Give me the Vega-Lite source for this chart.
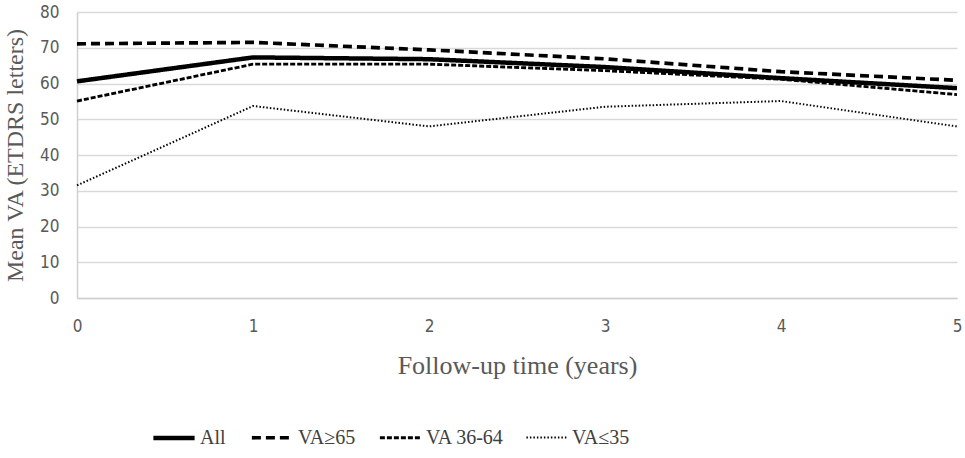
{
  "$schema": "https://vega.github.io/schema/vega-lite/v6.json",
  "autosize": {"type": "none"},
  "padding": {"left": 77, "top": 12, "right": 8, "bottom": 160},
  "width": 880,
  "height": 286,
  "background": "white",
  "data": {
    "values": [
      {"year": 0, "group": "All", "va": 60.6},
      {"year": 1, "group": "All", "va": 67.3},
      {"year": 2, "group": "All", "va": 66.8},
      {"year": 3, "group": "All", "va": 64.6},
      {"year": 4, "group": "All", "va": 61.5},
      {"year": 5, "group": "All", "va": 58.7},
      {"year": 0, "group": "VA≥65", "va": 71.1},
      {"year": 1, "group": "VA≥65", "va": 71.5},
      {"year": 2, "group": "VA≥65", "va": 69.4},
      {"year": 3, "group": "VA≥65", "va": 66.9},
      {"year": 4, "group": "VA≥65", "va": 63.3},
      {"year": 5, "group": "VA≥65", "va": 60.9},
      {"year": 0, "group": "VA 36-64", "va": 55.1},
      {"year": 1, "group": "VA 36-64", "va": 65.4},
      {"year": 2, "group": "VA 36-64", "va": 65.4},
      {"year": 3, "group": "VA 36-64", "va": 63.6},
      {"year": 4, "group": "VA 36-64", "va": 61.2},
      {"year": 5, "group": "VA 36-64", "va": 56.9},
      {"year": 0, "group": "VA≤35", "va": 31.5},
      {"year": 1, "group": "VA≤35", "va": 53.7},
      {"year": 2, "group": "VA≤35", "va": 48.0},
      {"year": 3, "group": "VA≤35", "va": 53.5},
      {"year": 4, "group": "VA≤35", "va": 55.1},
      {"year": 5, "group": "VA≤35", "va": 48.0}
    ]
  },
  "mark": {"type": "line", "color": "black", "strokeCap": "butt", "strokeJoin": "round"},
  "encoding": {
    "x": {
      "field": "year",
      "type": "quantitative",
      "scale": {"domain": [0, 5], "nice": false},
      "title": "Follow-up time (years)",
      "axis": {"values": [0, 1, 2, 3, 4, 5], "labelOverlap": false, "labelFlush": false, "labelBound": false, "grid": false, "ticks": false, "labelPadding": 20, "titlePadding": 18, "titleFontSize": 26}
    },
    "y": {
      "field": "va",
      "type": "quantitative",
      "scale": {"domain": [0, 80], "nice": false},
      "title": "Mean VA (ETDRS letters)",
      "axis": {"values": [0, 10, 20, 30, 40, 50, 60, 70, 80], "labelOverlap": false, "ticks": false, "labelPadding": 18, "titlePadding": 12, "titleFontSize": 24}
    },
    "strokeDash": {
      "field": "group",
      "type": "nominal",
      "scale": {
        "domain": ["All", "VA≥65", "VA 36-64", "VA≤35"],
        "range": [[1, 0], [9, 5], [5, 2], [1.5, 2]]
      },
      "legend": {
        "title": null,
        "orient": "none",
        "direction": "horizontal",
        "legendX": 74,
        "legendY": 403,
        "symbolType": "stroke",
        "symbolSize": 1700,
        "symbolStrokeColor": "black",
        "labelFont": "Liberation Serif",
        "labelFontSize": 20,
        "labelColor": "#404040",
        "labelOffset": 3,
        "columnPadding": 18
      }
    },
    "strokeWidth": {
      "field": "group",
      "type": "nominal",
      "scale": {
        "domain": ["All", "VA≥65", "VA 36-64", "VA≤35"],
        "range": [4.5, 2, 2, 2]
      },
      "legend": null
    }
  },
  "config": {
    "view": {"stroke": null},
    "axis": {
      "domainColor": "#d0d0d0",
      "domainWidth": 1.5,
      "gridColor": "#d9d9d9",
      "gridWidth": 1.5,
      "labelFont": "Liberation Sans Narrow, DejaVu Sans Condensed, sans-serif",
      "labelFontSize": 17,
      "labelColor": "#595959",
      "titleFont": "Liberation Serif",
      "titleFontWeight": "normal",
      "titleColor": "#595959"
    }
  }
}
